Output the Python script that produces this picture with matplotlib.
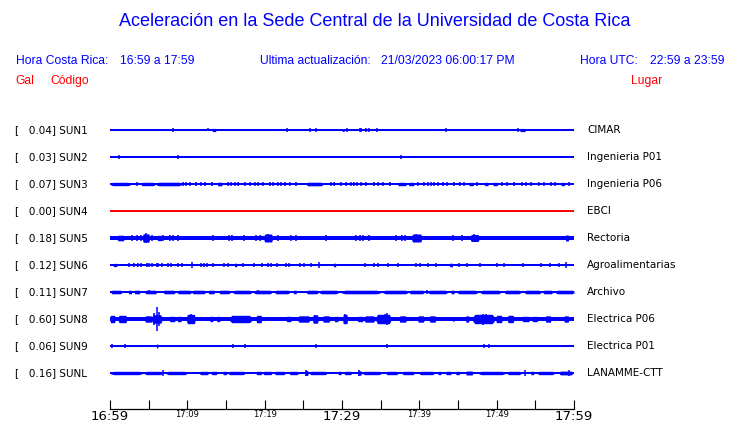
import matplotlib.pyplot as plt

# stations, peak acceleration (Gal) and site names
codes = ["SUN1", "SUN2", "SUN3", "SUN4", "SUN5", "SUN6", "SUN7", "SUN8", "SUN9", "SUNL"]
peaks = [0.04, 0.03, 0.07, 0.00, 0.18, 0.12, 0.11, 0.60, 0.06, 0.16]
places = ["CIMAR", "Ingenieria P01", "Ingenieria P06", "EBCI", "Rectoria",
          "Agroalimentarias", "Archivo", "Electrica P06", "Electrica P01", "LANAMME-CTT"]

# half width of the quiet trace (px)
base_width = [0.85, 0.85, 0.95, 0.85, 1.9, 0.85, 0.85, 2.0, 0.85, 0.95]

# minutes after 16:59 and half heights (px)
sun1_bursts = [(13.2, 13.7, 1.6), (30.0, 30.3, 1.4), (53.0, 53.7, 1.6)]
sun1_spikes = [(8.2, 1.7), (12.7, 1.5), (22.9, 1.7), (23.1, 1.4), (24.3, 1.4), (25.8, 1.7),
               (26.6, 1.7), (27.1, 1.4), (28.2, 1.2), (30.7, 1.7), (32.3, 1.7), (32.5, 1.7),
               (33.1, 1.7), (33.5, 1.7), (34.5, 1.7), (43.4, 1.7), (47.6, 1.2), (52.8, 1.7)]

sun2_bursts = []
sun2_spikes = [(1.2, 2.2), (8.8, 1.7), (37.6, 1.7)]

sun3_bursts = [(0.1, 2.6, 1.7), (4.0, 5.8, 1.7), (6.0, 9.2, 1.8), (13.9, 14.5, 1.8),
               (25.4, 27.5, 1.8), (37.2, 38.3, 1.7), (38.6, 39.3, 1.7), (46.4, 47.0, 1.7),
               (48.4, 48.9, 1.7), (49.5, 50.1, 1.7), (58.3, 58.8, 1.7)]
sun3_spikes = [(m, 1.7) for m in [3.44, 9.46, 9.89, 10.32, 11.18, 11.83, 12.26, 13.2, 15.27,
                                  15.7, 16.13, 16.56, 17.42, 18.06, 18.79, 19.14, 19.78, 20.73,
                                  21.07, 21.72, 22.15, 22.58, 23.22, 24.08, 28.6, 29.0, 29.9,
                                  30.5, 31.1, 31.6, 32.0, 32.5, 33.1, 34.2, 34.6, 35.3, 36.2,
                                  39.8, 40.6, 41.1, 41.5, 41.9, 42.4, 43.0, 43.6, 44.5, 45.2,
                                  45.8, 47.5, 50.7, 51.4, 52.2, 53.3, 53.8, 54.4, 55.5, 56.1,
                                  57.0, 57.6, 59.3]]

sun4_bursts = []
sun4_spikes = []

sun5_bursts = [(0.95, 1.8, 2.8), (4.2, 5.1, 4.2), (6.1, 6.7, 2.7), (19.9, 21.0, 4.0),
               (39.0, 40.3, 4.0), (46.6, 47.7, 3.5), (58.9, 59.3, 3.0)]
sun5_spikes = [(2.88, 2.6), (3.44, 2.6), (4.0, 2.6), (4.6, 4.8), (5.38, 2.6), (6.88, 2.6),
               (7.74, 2.6), (8.17, 2.6), (8.73, 2.6), (13.33, 2.6), (15.39, 2.6), (15.82, 2.6),
               (17.33, 2.6), (18.92, 2.6), (19.35, 2.6), (20.4, 4.4), (21.72, 2.6), (23.44, 2.6),
               (23.99, 2.6), (27.95, 3.0), (31.82, 2.6), (32.34, 2.6), (32.68, 2.6), (33.45, 2.6),
               (36.98, 2.6), (37.75, 2.6), (38.18, 2.6), (39.6, 4.4), (44.29, 2.6), (45.49, 2.6),
               (47.1, 4.0)]

sun6_bursts = [(0.4, 0.9, 1.6), (16.1, 16.4, 1.8), (28.9, 29.2, 1.8), (43.9, 44.3, 1.8)]
sun6_spikes = [(m, 1.6) for m in [2.45, 3.14, 3.66, 4.0, 4.73, 5.07, 5.46, 6.02, 6.24, 6.67,
                                  7.53, 7.87, 8.73, 9.25, 11.74, 12.17, 12.51, 13.33, 14.71,
                                  15.27, 17.2, 18.58, 19.69, 20.43, 20.77, 21.63, 22.79, 23.09,
                                  24.51, 25.07, 26.02, 33.02, 34.19, 34.62, 35.9, 37.2, 39.56,
                                  40.08, 41.07, 42.2, 45.15, 46.1, 47.9, 50.0, 50.9, 53.4,
                                  55.7, 56.9, 58.05]] + [(10.62, 2.7), (27.0, 2.7), (59.0, 2.7)]

sun7_bursts = [(0.13, 1.5, 1.8), (2.37, 2.8, 1.8), (3.14, 3.87, 1.8), (4.5, 6.0, 1.8),
               (6.9, 8.4, 1.8), (8.7, 10.5, 1.8), (10.6, 12.3, 1.8), (12.7, 13.5, 1.8),
               (14.1, 15.5, 1.8), (15.9, 18.3, 1.8), (18.6, 20.9, 1.8), (21.3, 23.2, 1.8),
               (23.7, 24.1, 1.8), (25.4, 26.9, 1.8), (27.1, 29.5, 1.8), (29.9, 35.0, 1.8),
               (35.3, 38.5, 1.8), (38.7, 40.6, 1.8), (41.1, 43.6, 1.8), (44.1, 44.5, 1.8),
               (44.9, 47.5, 1.8), (47.9, 50.5, 1.8), (51.0, 53.1, 1.8), (53.6, 55.7, 1.8),
               (56.0, 57.2, 1.8), (57.6, 60.0, 1.8)]
sun7_spikes = [(5.0, 2.4), (19.2, 2.2), (41.0, 2.4)]

sun8_bursts = [(0.0, 0.65, 3.7), (1.07, 2.15, 3.7), (4.5, 5.4, 3.2), (5.4, 6.7, 4.2),
               (7.7, 8.4, 2.7), (8.7, 9.2, 2.7), (9.9, 11.0, 4.7), (12.9, 13.3, 2.7),
               (13.8, 14.2, 2.7), (15.5, 18.3, 3.7), (18.9, 19.6, 3.7), (22.8, 23.4, 2.7),
               (24.3, 25.8, 3.2), (26.2, 26.9, 4.2), (27.5, 28.4, 3.2), (29.0, 29.5, 2.7),
               (30.1, 30.7, 4.7), (32.0, 32.7, 2.7), (32.9, 34.2, 3.2), (34.4, 36.3, 4.7),
               (37.4, 38.3, 3.2), (39.8, 40.6, 3.2), (41.3, 42.1, 3.2), (44.3, 44.5, 2.2),
               (46.0, 46.4, 3.2), (46.9, 49.7, 4.7), (49.9, 50.7, 3.7), (51.4, 52.2, 3.7),
               (53.3, 54.2, 2.7), (54.6, 55.3, 2.7), (56.3, 57.0, 3.2), (58.7, 59.3, 3.2)]
sun8_spikes = [(6.02, 12.0), (5.7, 6.0), (6.3, 7.0), (10.5, 5.0), (26.5, 4.4), (30.4, 5.0),
               (35.8, 6.2), (35.5, 5.2), (48.2, 5.5), (48.6, 5.0)]

sun9_bursts = [(6.0, 6.2, 2.0)]
sun9_spikes = [(0.3, 1.7), (1.42, 1.2), (2.0, 1.7), (8.08, 1.2), (10.4, 1.2), (15.9, 1.7),
               (17.4, 2.2), (25.9, 1.2), (26.6, 2.2), (35.8, 2.2), (48.3, 1.7), (49.0, 1.7)]

sunl_bursts = [(0.1, 4.1, 1.7), (4.5, 6.7, 1.7), (7.3, 9.9, 1.7), (11.6, 12.7, 1.7),
               (13.1, 13.8, 1.7), (14.6, 15.1, 1.7), (15.3, 17.4, 1.7), (18.9, 19.6, 1.7),
               (19.8, 20.9, 1.7), (21.3, 22.6, 1.7), (23.2, 24.3, 1.7), (25.2, 25.6, 2.5),
               (25.8, 28.0, 1.7), (29.5, 29.9, 1.7), (30.3, 31.2, 1.7), (32.0, 32.5, 2.2),
               (32.7, 35.0, 1.7), (35.7, 37.2, 1.7), (37.8, 39.3, 1.7), (40.0, 41.9, 1.7),
               (42.4, 42.8, 1.7), (43.4, 44.1, 1.7), (44.7, 45.2, 1.7), (46.0, 46.9, 2.0),
               (47.7, 51.0, 1.7), (51.4, 53.1, 1.7), (54.4, 54.8, 1.7), (55.3, 57.4, 1.7),
               (58.1, 59.8, 1.9)]
sunl_spikes = [(6.88, 3.4), (25.4, 2.7), (32.2, 2.7), (53.6, 2.7), (59.3, 2.7)]

bursts = [sun1_bursts, sun2_bursts, sun3_bursts, sun4_bursts, sun5_bursts,
          sun6_bursts, sun7_bursts, sun8_bursts, sun9_bursts, sunl_bursts]
spikes = [sun1_spikes, sun2_spikes, sun3_spikes, sun4_spikes, sun5_spikes,
          sun6_spikes, sun7_spikes, sun8_spikes, sun9_spikes, sunl_spikes]
trace_colors = ["#0000ff"] * 3 + ["#ff0000"] + ["#0000ff"] * 6

tick_minutes = [0, 10, 20, 30, 40, 50, 60]
tick_labels = ["16:59", "17:09", "17:19", "17:29", "17:39", "17:49", "17:59"]
tick_sizes = [9.5, 6, 6, 9.5, 6, 6, 9.5]

W, H = 740, 423
fig = plt.figure(figsize=(W / 100, H / 100), dpi=100)


def px(x, y):
    return x / W, 1 - y / H


head = dict(family="Liberation Sans", color="#0000ff")
fig.text(*px(375, 21), "Aceleración en la Sede Central de la Universidad de Costa Rica",
         ha="center", va="center", fontsize=13, **head)
fig.text(*px(16, 61), "Hora Costa Rica:", ha="left", va="center", fontsize=8.7, **head)
fig.text(*px(120, 61), "16:59 a 17:59", ha="left", va="center", fontsize=8.7, **head)
fig.text(*px(260, 61), "Ultima actualización:", ha="left", va="center", fontsize=8.7, **head)
fig.text(*px(381, 61), "21/03/2023 06:00:17 PM", ha="left", va="center", fontsize=8.7, **head)
fig.text(*px(580, 61), "Hora UTC:", ha="left", va="center", fontsize=8.7, **head)
fig.text(*px(650, 61), "22:59 a 23:59", ha="left", va="center", fontsize=8.7, **head)
red = dict(family="Liberation Sans", color="#ff0000", fontsize=8.7, va="center")
fig.text(*px(15, 81), "Gal", ha="left", **red)
fig.text(*px(50, 81), "Código", ha="left", **red)
fig.text(*px(662, 81), "Lugar", ha="right", **red)

# trace area, 1 data unit = 1 px vertically
ax = fig.add_axes([110 / W, (H - 409) / H, 464 / W, 306 / H])
ax.set_xlim(0, 60)
ax.set_ylim(306, 0)

for i, code in enumerate(codes):
    y0 = 27 * (i + 1)
    c = trace_colors[i]
    b = base_width[i]
    ax.fill_between([0, 60], y0 - b, y0 + b, color=c, lw=0)
    for s, e, h in bursts[i]:
        d = 0.1 * (e - s)
        ax.fill_between([s, s + d, e - d, e], [y0 - b, y0 - h, y0 - h, y0 - b],
                        [y0 + b, y0 + h, y0 + h, y0 + b], color=c, lw=0)
    for m, h in spikes[i]:
        ax.vlines(m, y0 - h, y0 + h, color=c, lw=1.1)
    label_y = 103 + y0
    fig.text(*px(15, label_y), "[   %.2f] %s" % (peaks[i], code), ha="left", va="center",
             fontsize=7.5, color="black")
    fig.text(*px(587, label_y), places[i], ha="left", va="center", fontsize=7.5, color="black")

for side in ["top", "left", "right"]:
    ax.spines[side].set_visible(False)
ax.spines["bottom"].set_linewidth(0.9)
ax.set_yticks([])
ax.set_xticks(tick_minutes)
ax.set_xticklabels(tick_labels)
ax.set_xticks(range(5, 60, 10), minor=True)
ax.tick_params(axis="x", which="both", direction="in", length=6.5, width=0.8, pad=1)
for lbl, sz in zip(ax.get_xticklabels(), tick_sizes):
    lbl.set_fontsize(sz)

fig.savefig("out.png", dpi=100)
